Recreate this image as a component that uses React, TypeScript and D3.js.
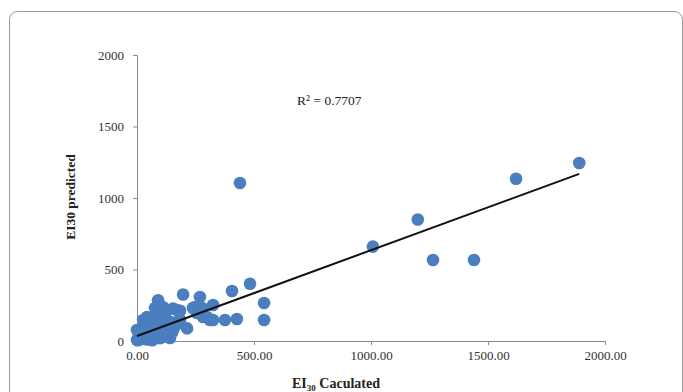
import React, { useEffect, useRef } from "react";
import * as d3 from "d3";

// EI30 calculated vs predicted
const xCalc = [
  1890, 1620, 1200, 1265, 1440, 1008, 440, 483, 543, 543, 406, 427, 376, 325, 325, 269, 197, 90, 154, 184,
  214, 312, 261, 282, 248, 278, 239, 171, 154, 299, 111, 77, 43, 26, 0, 0, 56, 111, 141, 85, 184, 256,
  10, 20, 30, 40, 50, 60, 70, 80, 90, 100, 110, 120, 130, 140, 150, 160, 60, 75, 95, 125, 35, 15, 5, 45,
  65, 100, 130, 150, 170, 120, 95, 70,
];
const yPred = [
  1245, 1135, 850, 566, 566, 660, 1105, 400, 266, 147, 350, 154, 147, 252, 147, 308, 325, 285, 227, 212,
  88, 147, 203, 168, 238, 231, 231, 217, 77, 168, 238, 231, 168, 147, 77, 7, 77, 98, 21, 21, 147, 196,
  20, 40, 15, 50, 30, 60, 40, 90, 60, 120, 50, 80, 30, 110, 60, 100, 130, 170, 140, 150, 100, 60, 5, 10,
  5, 20, 60, 130, 120, 190, 180, 110,
];
const xTicks = [0, 500, 1000, 1500, 2000];
const yTicks = [0, 500, 1000, 1500, 2000];
const trend = { slope: 0.6, intercept: 35, xMin: 0, xMax: 1890 };
const r2Label = "R² = 0.7707";

const App = () => {
  const ref = useRef<SVGSVGElement>(null);

  useEffect(() => {
    const svg = d3.select(ref.current);
    svg.selectAll("*").remove();

    const W = 683;
    const H = 392;
    svg.attr("width", W).attr("height", H);

    const font = "'Liberation Serif', 'Times New Roman', serif";
    const axisColor = "#8a8a8a";

    // outer chart frame
    svg
      .append("rect")
      .attr("x", 9.5)
      .attr("y", 11.5)
      .attr("width", 673)
      .attr("height", 400)
      .attr("rx", 8)
      .attr("fill", "white")
      .attr("stroke", "#9a9a9a");

    const x = d3.scaleLinear().domain([0, 2000]).range([137, 605]);
    const y = d3.scaleLinear().domain([0, 2000]).range([341, 55]);

    // x axis
    const gx = svg.append("g").attr("transform", `translate(0,${y(0)})`);
    gx.call(
      d3
        .axisBottom(x)
        .tickValues(xTicks)
        .tickSize(4)
        .tickFormat((d) => d3.format(".2f")(d as number))
    );
    gx.select(".domain").attr("stroke", axisColor);
    gx.selectAll(".tick line").attr("stroke", axisColor);
    gx.selectAll("text")
      .attr("fill", "#333")
      .attr("dy", null)
      .attr("y", 19)
      .style("font-family", font)
      .style("font-size", "13px");

    // y axis
    const gy = svg.append("g").attr("transform", `translate(${x(0)},0)`);
    gy.call(
      d3
        .axisLeft(y)
        .tickValues(yTicks)
        .tickSize(4)
        .tickPadding(9)
        .tickFormat((d) => d3.format("d")(d as number))
    );
    gy.select(".domain").attr("stroke", axisColor);
    gy.selectAll(".tick line").attr("stroke", axisColor);
    gy.selectAll("text")
      .attr("fill", "#333")
      .style("font-family", font)
      .style("font-size", "13px");

    // points
    const pts = xCalc.map((v, i) => [v, yPred[i]]);
    svg
      .append("g")
      .selectAll("circle")
      .data(pts)
      .join("circle")
      .attr("cx", (d) => x(d[0]))
      .attr("cy", (d) => y(d[1]))
      .attr("r", 6.3)
      .attr("fill", "#4A7EBF");

    // linear trend line
    const line = d3
      .line<number>()
      .x((d) => x(d))
      .y((d) => y(trend.slope * d + trend.intercept));
    svg
      .append("path")
      .datum([trend.xMin, trend.xMax])
      .attr("fill", "none")
      .attr("stroke", "#111")
      .attr("stroke-width", 2)
      .attr("d", line);

    // R² label
    svg
      .append("text")
      .attr("x", 297)
      .attr("y", 105)
      .style("font-family", font)
      .style("font-size", "13.5px")
      .attr("fill", "#222")
      .text(r2Label);

    // axis titles
    svg
      .append("text")
      .attr("transform", `translate(75,197) rotate(-90)`)
      .attr("text-anchor", "middle")
      .style("font-family", font)
      .style("font-size", "13.5px")
      .style("font-weight", "bold")
      .attr("fill", "#222")
      .text("EI30 predicted");

    const xt = svg
      .append("text")
      .attr("x", 336)
      .attr("y", 388)
      .attr("text-anchor", "middle")
      .style("font-family", font)
      .style("font-size", "14px")
      .style("font-weight", "bold")
      .attr("fill", "#222");
    xt.append("tspan").text("EI");
    xt.append("tspan").attr("dy", 3).style("font-size", "9px").text("30");
    xt.append("tspan").attr("dy", -3).text(" Caculated");
  }, []);

  return <svg ref={ref} style={{ position: "absolute", left: 0, top: 0 }}></svg>;
};

export default App;
